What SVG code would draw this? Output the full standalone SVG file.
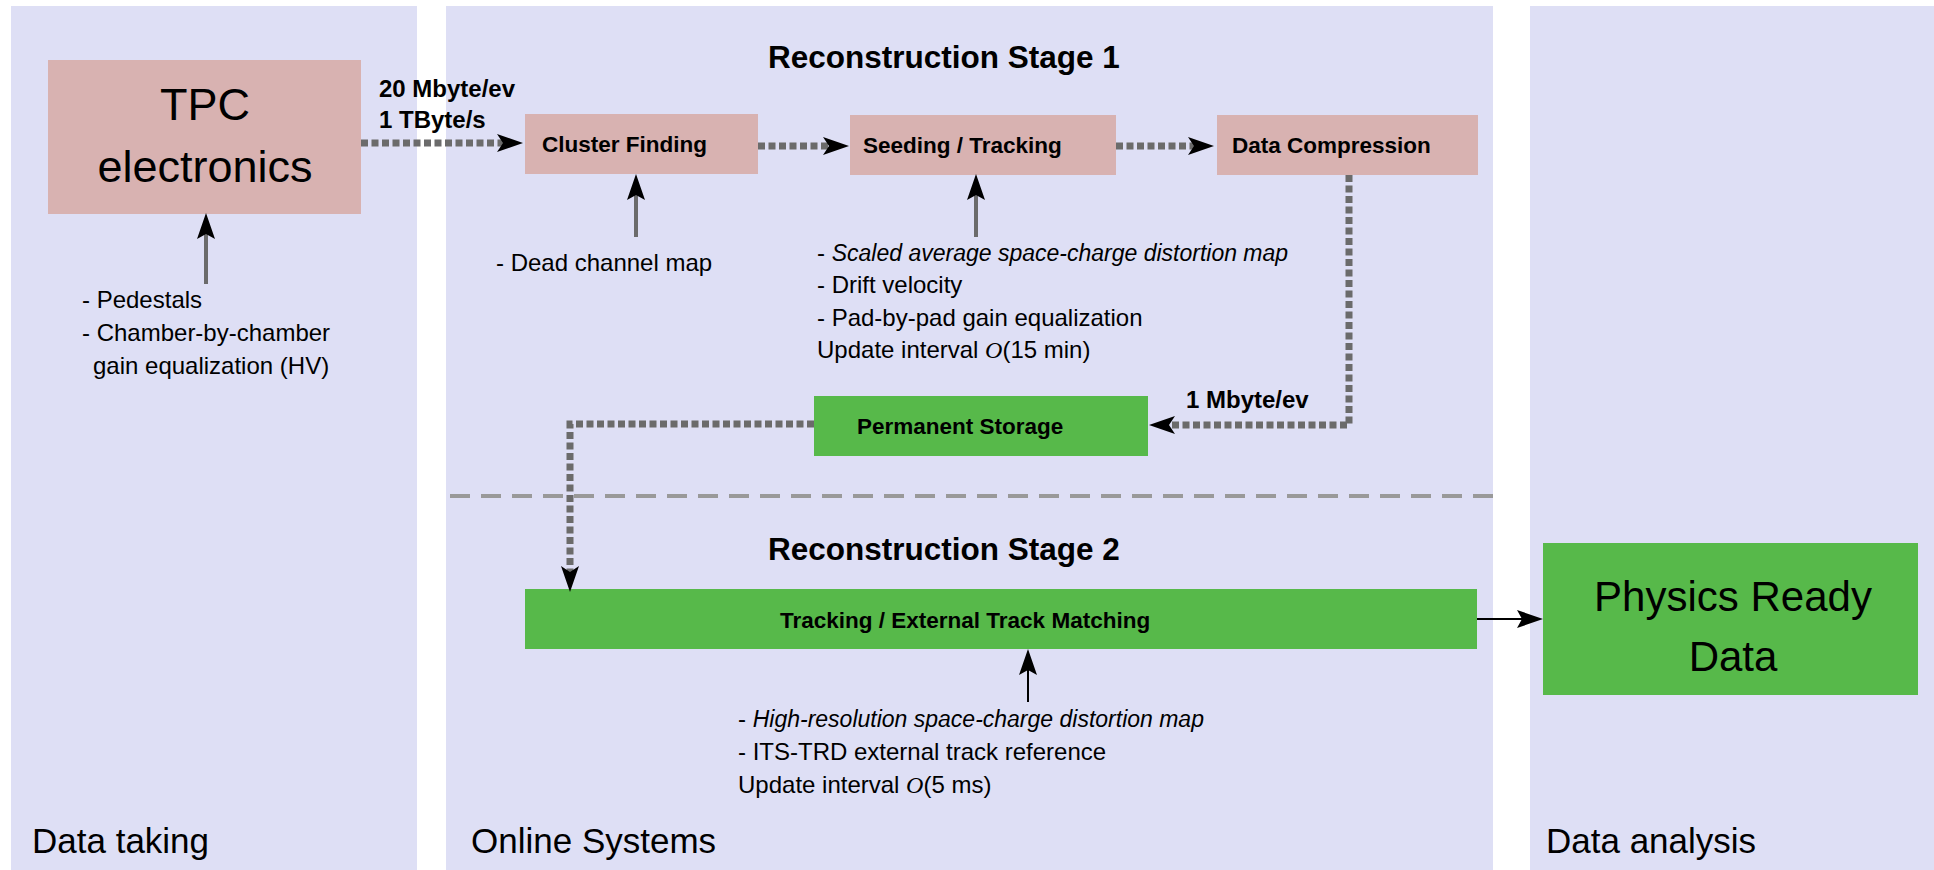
<svg xmlns="http://www.w3.org/2000/svg" width="1934" height="870" viewBox="0 0 1934 870">
<style>
  .panel { fill: #dedff5; }
  .pink { fill: #d8b2b1; }
  .green { fill: #57b94a; }
  text { font-family: "Liberation Sans", Arial, sans-serif; fill: #000; }
  .box { font-size: 22.5px; font-weight: bold; }
  .title { font-size: 31.5px; font-weight: bold; }
  .rate { font-size: 24px; font-weight: bold; }
  .note { font-size: 24px; }
  .it { font-style: italic; font-size: 23px; }
  .calO { font-family: "Liberation Serif", serif; font-style: italic; }
  .footer { font-size: 35px; }
  .dotted { fill: none; stroke: #6b6b6b; stroke-width: 7; stroke-dasharray: 7 3.5; }
  .gshaft { fill: none; stroke: #6b6b6b; stroke-width: 4; }
  .bshaft { fill: none; stroke: #000; stroke-width: 2; }
  .sep { fill: none; stroke: #999; stroke-width: 4; stroke-dasharray: 20 11; }
</style>
<defs>
  <marker id="headThick" markerUnits="userSpaceOnUse" viewBox="0 0 26 20" markerWidth="26" markerHeight="20" refX="6" refY="10" orient="auto">
    <path d="M0,1 L26,10 L0,19 L6,10 Z" fill="#000"/>
  </marker>
  <marker id="headThin" markerUnits="userSpaceOnUse" viewBox="0 0 26 20" markerWidth="26" markerHeight="20" refX="5" refY="10" orient="auto">
    <path d="M0,1 L26,10 L0,19 L5,10 Z" fill="#000"/>
  </marker>
</defs>

<g id="panels">
  <rect class="panel" x="11" y="6" width="406" height="864"/>
  <rect class="panel" x="446" y="6" width="1047" height="864"/>
  <rect class="panel" x="1530" y="6" width="404" height="864"/>
  <line class="sep" x1="450" y1="496" x2="1493" y2="496"/>
  <text class="footer" x="32" y="853">Data taking</text>
  <text class="footer" x="471" y="853">Online Systems</text>
  <text class="footer" x="1546" y="853">Data analysis</text>
  <text class="title" x="768" y="68">Reconstruction Stage 1</text>
  <text class="title" x="768" y="560">Reconstruction Stage 2</text>
</g>

<g id="tpc">
  <rect class="pink" x="48" y="60" width="313" height="154"/>
  <text x="205" y="120" font-size="45" text-anchor="middle">TPC</text>
  <text x="205" y="182" font-size="45" text-anchor="middle">electronics</text>
</g>

<g id="cluster">
  <rect class="pink" x="525" y="114" width="233" height="60"/>
  <text class="box" x="542" y="152">Cluster Finding</text>
</g>

<g id="seeding">
  <rect class="pink" x="850" y="115" width="266" height="60"/>
  <text class="box" x="863" y="153">Seeding / Tracking</text>
</g>

<g id="compression">
  <rect class="pink" x="1217" y="115" width="261" height="60"/>
  <text class="box" x="1232" y="153">Data Compression</text>
</g>

<g id="storage">
  <rect class="green" x="814" y="396" width="334" height="60"/>
  <text class="box" x="857" y="434">Permanent Storage</text>
</g>

<g id="tracking">
  <rect class="green" x="525" y="589" width="952" height="60"/>
  <text class="box" x="780" y="628">Tracking / External Track Matching</text>
</g>

<g id="physics">
  <rect class="green" x="1543" y="543" width="375" height="152"/>
  <text x="1733" y="611" font-size="42" text-anchor="middle">Physics Ready</text>
  <text x="1733" y="671" font-size="42" text-anchor="middle">Data</text>
</g>

<g id="annotations">
  <text class="rate" x="379" y="97">20 Mbyte/ev</text>
  <text class="rate" x="379" y="128">1 TByte/s</text>
  <text class="rate" x="1186" y="408" font-size="25">1 Mbyte/ev</text>

  <text class="note" x="82" y="308">- Pedestals</text>
  <text class="note" x="82" y="341">- Chamber-by-chamber</text>
  <text class="note" x="93" y="374">gain equalization (HV)</text>

  <text class="note" x="496" y="271">- Dead channel map</text>

  <text class="note" x="817" y="261">- <tspan class="it">Scaled average space-charge distortion map</tspan></text>
  <text class="note" x="817" y="293">- Drift velocity</text>
  <text class="note" x="817" y="326">- Pad-by-pad gain equalization</text>
  <text class="note" x="817" y="358">Update interval <tspan class="calO">O</tspan>(15 min)</text>

  <text class="note" x="738" y="727">- <tspan class="it">High-resolution space-charge distortion map</tspan></text>
  <text class="note" x="738" y="760">- ITS-TRD external track reference</text>
  <text class="note" x="738" y="793">Update interval <tspan class="calO">O</tspan>(5 ms)</text>
</g>

<g id="connectors">
  <path class="dotted" d="M361,143 H503" marker-end="url(#headThick)"/>
  <path class="dotted" d="M758,146 H829" marker-end="url(#headThick)"/>
  <path class="dotted" d="M1116,146 H1194" marker-end="url(#headThick)"/>
  <path class="dotted" d="M1349,175 V425 H1169" marker-end="url(#headThick)"/>
  <path class="dotted" d="M814,424 H570 V572" marker-end="url(#headThick)"/>

  <path class="gshaft" d="M206,284 V234" marker-end="url(#headThin)"/>
  <path class="gshaft" d="M636,237 V195" marker-end="url(#headThin)"/>
  <path class="gshaft" d="M976,237 V195" marker-end="url(#headThin)"/>
  <path class="bshaft" d="M1028,702 V670" marker-end="url(#headThin)"/>
  <path class="bshaft" d="M1477,619 H1522" marker-end="url(#headThin)"/>
</g>
</svg>
